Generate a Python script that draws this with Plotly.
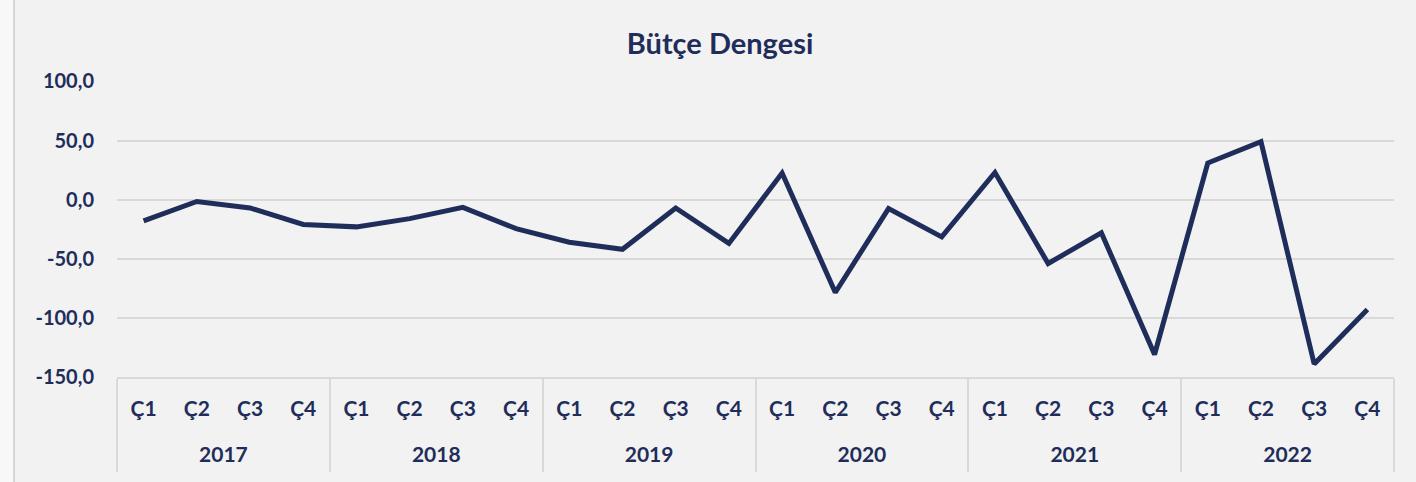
import plotly.graph_objects as go

years = ["2017", "2018", "2019", "2020", "2021", "2022"]
quarters = ["Ç1", "Ç2", "Ç3", "Ç4"]
values = [
    -18.0, -1.5, -7.0, -21.0,
    -23.0, -16.0, -6.5, -24.5,
    -36.0, -42.0, -7.0, -37.0,
    22.5, -78.5, -7.5, -31.5,
    23.0, -54.0, -28.0, -131.0,
    31.0, 49.0, -139.0, -93.0,
]
y_ticks = [100, 50, 0, -50, -100, -150]
y_tick_labels = ["100,0", "50,0", "0,0", "-50,0", "-100,0", "-150,0"]
title_text = "Bütçe Dengesi"

nq = len(quarters)
x_quarter = [q for _ in years for q in quarters]
x_pos = list(range(len(x_quarter)))
year_centers = [i * nq + (nq - 1) / 2 for i in range(len(years))]
x_range = [-0.5, len(x_quarter) - 0.5]

navy = "#1f2d5a"
grid = "#d9d9d9"
font_family = "Lato, 'Open Sans', sans-serif"

fig = go.Figure()
fig.add_trace(go.Scatter(
    x=x_pos,
    y=values,
    mode="lines",
    line=dict(color=navy, width=5),
    hoverinfo="skip",
    showlegend=False,
))
# carrier trace for the year-level axis
fig.add_trace(go.Scatter(
    x=year_centers, y=[None] * len(years), xaxis="x2",
    mode="lines", hoverinfo="skip", showlegend=False,
))

W, H = 1416, 482
ml, mr, mt, mb = 117, 22, 81, 105
pw = W - ml - mr

# white page strip at the left edge, outside the chart panel
fig.add_shape(type="rect", xref="paper", yref="paper",
              x0=(0 - ml) / pw - 0.01, x1=(14 - ml) / pw,
              y0=-2, y1=2, fillcolor="#f8f8f9", line=dict(width=0), layer="below")
fig.add_shape(type="line", xref="paper", yref="paper",
              x0=(14 - ml) / pw, x1=(14 - ml) / pw,
              y0=-2, y1=2, line=dict(color="#d6d6d6", width=2))

tick_font = dict(size=21, color=navy, family=font_family, weight="bold")

fig.update_layout(
    width=W, height=H,
    margin=dict(l=ml, r=mr, t=mt, b=mb, autoexpand=False),
    paper_bgcolor="#f2f2f2",
    plot_bgcolor="#f2f2f2",
    title=dict(text=title_text, x=720 / W, xanchor="center",
               y=1 - 44 / H, yanchor="middle",
               font=dict(family=font_family, size=29, color=navy, weight="bold")),
    font=dict(family=font_family, color=navy),
    yaxis=dict(
        range=[-150, 100.4],
        tickvals=y_ticks, ticktext=y_tick_labels,
        tickfont=dict(size=20, color=navy, family=font_family, weight="bold"),
        showgrid=True, gridcolor=grid, gridwidth=1.5,
        zeroline=False, showline=False, ticks="", ticklabelstandoff=22,
        automargin=False,
    ),
    xaxis=dict(
        range=x_range,
        tickmode="array", tickvals=x_pos, ticktext=x_quarter,
        tickfont=tick_font,
        showline=True, linecolor=grid, linewidth=2,
        showgrid=False, zeroline=False, ticks="",
        ticklabelstandoff=12,
        minor=dict(tickmode="linear", tick0=-0.5, dtick=nq, ticks="outside",
                   ticklen=93, tickcolor=grid, tickwidth=2, showgrid=False),
        automargin=False,
    ),
    xaxis2=dict(
        overlaying="x", anchor="y", side="bottom",
        range=x_range,
        tickmode="array", tickvals=year_centers, ticktext=years,
        tickfont=tick_font,
        showline=False, showgrid=False, zeroline=False, ticks="",
        ticklabelstandoff=63,
        automargin=False,
    ),
)

fig.write_html("out.html", post_script="document.body.style.margin='0';",
               config={"displayModeBar": False})
